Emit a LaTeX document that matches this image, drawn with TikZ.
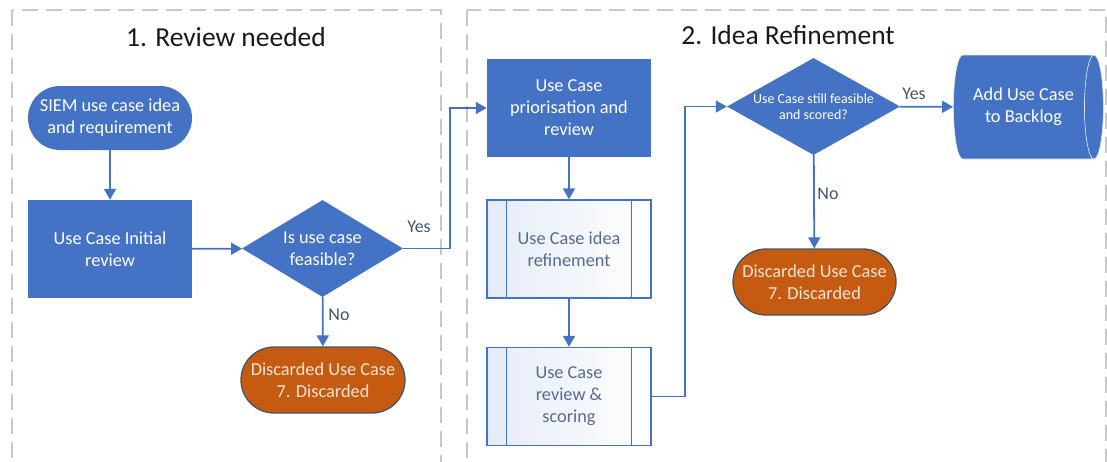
\documentclass[tikz,border=0pt]{standalone}
\usepackage{fontspec}
\setmainfont{Carlito}
\usetikzlibrary{positioning,arrows.meta,shapes.geometric}

\definecolor{ublue}{RGB}{68,114,196}
\definecolor{uorange}{RGB}{197,90,17}
\definecolor{uslate}{RGB}{68,84,106}
\definecolor{utext}{RGB}{86,106,146}
\definecolor{ugrey}{RGB}{200,200,200}
\definecolor{ucream}{RGB}{251,229,214}

\begin{document}
\begin{tikzpicture}[
  x=1pt, y=-1pt,
  >={Triangle[length=11pt,width=12pt]},
  font=\fontsize{18.3}{22}\selectfont,
  lane/.style={draw=ugrey,line width=1.4pt,dash pattern=on 16pt off 8pt},
  ttl/.style={font=\fontsize{27.5}{32}\selectfont,text=black!90},
  term/.style={fill=ublue,text=white,align=center,inner sep=0pt,
               minimum width=164pt,minimum height=64pt,rounded corners=32pt},
  stop/.style={fill=uorange,draw=uslate,line width=1.3pt,text=ucream,align=center,
               inner sep=0pt,minimum width=164pt,minimum height=66pt,rounded corners=33pt},
  bbox/.style={fill=ublue,text=white,align=center,inner sep=0pt,
               minimum width=164pt,minimum height=98pt},
  proc/.style={draw=ublue,line width=1.3pt,left color=ublue!14,right color=white,
               text=utext,align=center,inner sep=0pt,minimum width=164pt,minimum height=98pt},
  dec/.style={diamond,fill=ublue,inner sep=0pt},
  dectext/.style={text=white,align=center},
  store/.style={cylinder,shape border rotate=0,aspect=0.5,cylinder uses custom fill,
                cylinder body fill=ublue,cylinder end fill=ublue,draw=white!85!ublue,
                line width=0.6pt,text=white,align=center,inner sep=0pt,
                minimum width=104pt,minimum height=150pt},
  link/.style={->,draw=ublue,line width=1.8pt},
  lbl/.style={text=uslate,font=\fontsize{18}{21}\selectfont}]

\useasboundingbox (0,0) rectangle (1107,461);

% --- the two lanes (bottom edge runs off the page) ---
\draw[lane] (12,10) rectangle (441,470);
\draw[lane] (467,10) rectangle (1106,470);
\node[ttl] (t1) at (226,37) {1. Review needed};
\node[ttl] (t2) at (788,35) {2. Idea Refinement};

% --- lane 1 ---
\node[term] (start) at (110,118) {SIEM use case idea\\and requirement};
\node[bbox] (init) at (110,249) {Use Case Initial\\review};
\node[dec,minimum width=161pt,minimum height=97pt] (feas) at (322.5,248.5) {};
\node[dectext] (feastext) at (feas) {Is use case\\feasible?};
\node[stop] (disc1) at (323,380) {Discarded Use Case\\7. Discarded};

% --- lane 2 ---
\node[bbox] (prio) at (569,108) {Use Case\\priorisation and\\review};
\node[proc] (refine) at (569,249) {Use Case idea\\refinement};
\node[proc] (score) at (569,396.5) {Use Case\\review \&\\scoring};
\draw[draw=ublue,line width=1.3pt] ([xshift=20pt]refine.north west) -- ([xshift=20pt]refine.south west)
  ([xshift=-20pt]refine.north east) -- ([xshift=-20pt]refine.south east);
\draw[draw=ublue,line width=1.3pt] ([xshift=20pt]score.north west) -- ([xshift=20pt]score.south west)
  ([xshift=-20pt]score.north east) -- ([xshift=-20pt]score.south east);
\node[dec,minimum width=173pt,minimum height=97pt] (still) at (813.5,106.5) {};
\node[dectext,font=\fontsize{14}{16.5}\selectfont] (stilltext) at (still) {Use Case still feasible\\and scored?};
\node[store] (backlog) at (1023.5,107) {Add Use Case\\to Backlog};
\node[stop,minimum width=163pt] (disc2) at (814.5,282) {Discarded Use Case\\7. Discarded};

% --- connectors ---
\coordinate (k1) at (450,248.5);
\coordinate (k2) at (685,396.5);
\draw[link] (start) -- (init);
\draw[link] (init) -- (feas);
\draw[link] (feas.east) -- (k1) |- (prio.west);
\draw[link] (feas) -- (disc1);
\draw[link] (prio) -- (refine);
\draw[link] (refine) -- (score);
\draw[link] (score.east) -- (k2) |- (still.west);
\draw[link] (still) -- (backlog);
\draw[link] (still) -- (disc2);

% --- branch labels ---
\node[lbl] (yes1) at (419,227) {Yes};
\node[lbl] (no1) at (339,315) {No};
\node[lbl] (yes2) at (914,94) {Yes};
\node[lbl] (no2) at (828,194) {No};

\end{tikzpicture}
\end{document}
